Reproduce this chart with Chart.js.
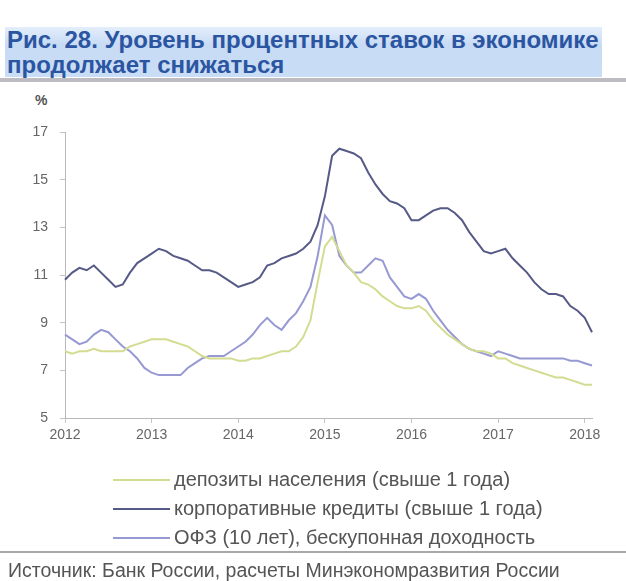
<!DOCTYPE html>
<html>
<head>
<meta charset="utf-8">
<script src="https://cdn.jsdelivr.net/npm/chart.js@4/dist/chart.umd.min.js"></script>
<style>
  body { margin:0; width:626px; height:581px; background:#fff; position:relative; overflow:hidden;
         font-family:"Liberation Sans", Arial, sans-serif; }
  #band { position:absolute; left:5px; top:27px; width:597px; height:50px;
          background:linear-gradient(#e4eefb, #c7dbf5 35%, #c9ddf6); }
  #title { position:absolute; left:7px; top:27px; font-weight:bold; font-size:24px; line-height:25px;
           color:#2b55a0; white-space:nowrap; }
  #rule { position:absolute; left:0; top:78px; width:626px; height:4px; background:#bcbcc2; }
  #pct { position:absolute; left:35px; top:92px; font-size:14px; font-weight:bold; color:#555; }
  canvas { position:absolute; left:0; top:0; }
  #legend { position:absolute; left:113px; top:465px; }
  .row { height:29px; display:flex; align-items:center; }
  .sw { width:57px; height:2px; margin-right:4px; }
  .lt { font-size:20px; color:#555; white-space:nowrap; }
  #rule2 { position:absolute; left:0; top:551px; width:626px; height:2px; background:#a8a8a8; }
  #src { position:absolute; left:8px; top:559px; font-size:19.5px; color:#555; white-space:nowrap; }
</style>
</head>
<body>
<div id="band"></div>
<div id="title">Рис. 28. Уровень процентных ставок в экономике<br>продолжает снижаться</div>
<div id="rule"></div>
<div id="pct">%</div>
<canvas id="c" width="626" height="581"></canvas>
<div id="legend"></div>
<div id="rule2"></div>
<div id="src">Источник: Банк России, расчеты Минэкономразвития России</div>
<script>
// Years shown on the horizontal axis; monthly observations from Jan 2012 to Feb 2018
const years = ['2012', '2013', '2014', '2015', '2016', '2017', '2018'];
const monthCount = 74;

// Y axis range, %
const yMin = 5, yMax = 17, yStep = 2;

// Series names
const seriesNames = [
  'депозиты населения (свыше 1 года)',
  'корпоративные кредиты (свыше 1 года)',
  'ОФЗ (10 лет), бескупонная доходность'
];

// Deposits of households, over 1 year, %
const deposits = [
  7.8, 7.7, 7.8, 7.8, 7.9, 7.8, 7.8, 7.8, 7.8, 8.0, 8.1, 8.2,
  8.3, 8.3, 8.3, 8.2, 8.1, 8.0, 7.8, 7.6, 7.5, 7.5, 7.5, 7.5,
  7.4, 7.4, 7.5, 7.5, 7.6, 7.7, 7.8, 7.8, 8.0, 8.4, 9.1, 10.7,
  12.2, 12.6, 12.0, 11.4, 11.1, 10.7, 10.6, 10.4, 10.1, 9.9, 9.7, 9.6,
  9.6, 9.7, 9.5, 9.1, 8.8, 8.5, 8.3, 8.1, 7.9, 7.8, 7.8, 7.7,
  7.5, 7.5, 7.3, 7.2, 7.1, 7.0, 6.9, 6.8, 6.7, 6.7, 6.6, 6.5,
  6.4, 6.4
];

// Corporate loans, over 1 year, %
const corporate = [
  10.8, 11.1, 11.3, 11.2, 11.4, 11.1, 10.8, 10.5, 10.6, 11.1, 11.5, 11.7,
  11.9, 12.1, 12.0, 11.8, 11.7, 11.6, 11.4, 11.2, 11.2, 11.1, 10.9, 10.7,
  10.5, 10.6, 10.7, 10.9, 11.4, 11.5, 11.7, 11.8, 11.9, 12.1, 12.4, 13.1,
  14.3, 16.0, 16.3, 16.2, 16.1, 15.9, 15.3, 14.8, 14.4, 14.1, 14.0, 13.8,
  13.3, 13.3, 13.5, 13.7, 13.8, 13.8, 13.6, 13.3, 12.8, 12.4, 12.0, 11.9,
  12.0, 12.1, 11.7, 11.4, 11.1, 10.7, 10.4, 10.2, 10.2, 10.1, 9.7, 9.5,
  9.2, 8.6
];

// OFZ 10-year zero-coupon yield, %
const ofz = [
  8.5, 8.3, 8.1, 8.2, 8.5, 8.7, 8.6, 8.3, 8.0, 7.8, 7.5, 7.1,
  6.9, 6.8, 6.8, 6.8, 6.8, 7.1, 7.3, 7.5, 7.6, 7.6, 7.6, 7.8,
  8.0, 8.2, 8.5, 8.9, 9.2, 8.9, 8.7, 9.1, 9.4, 9.9, 10.5, 11.8,
  13.5, 13.1, 11.8, 11.4, 11.1, 11.1, 11.4, 11.7, 11.6, 10.9, 10.5, 10.1,
  10.0, 10.2, 10.0, 9.5, 9.1, 8.7, 8.4, 8.1, 7.9, 7.8, 7.7, 7.6,
  7.8, 7.7, 7.6, 7.5, 7.5, 7.5, 7.5, 7.5, 7.5, 7.5, 7.4, 7.4,
  7.3, 7.2
];

const colors = ['#d3dc90', '#565a86', '#9699d2'];

const labels = [];
for (let i = 0; i < monthCount; i++) {
  labels.push(years[Math.floor(i / 12)] + '-' + String(i % 12 + 1).padStart(2, '0'));
}

const series = [deposits, corporate, ofz];
const datasets = series.map((d, k) => ({
  label: seriesNames[k],
  data: d,
  borderColor: colors[k],
  backgroundColor: colors[k],
  borderWidth: 2,
  pointRadius: 0,
  tension: 0,
  fill: false
}));

new Chart(document.getElementById('c'), {
  type: 'line',
  data: { labels, datasets },
  options: {
    responsive: false,
    animation: false,
    layout: { padding: { top: 132, left: 0, right: 34, bottom: 133 } },
    plugins: { legend: { display: false }, tooltip: { enabled: false } },
    scales: {
      x: {
        grid: { drawOnChartArea: false, tickLength: 5, color: '#c4c4c4' },
        border: { color: '#b8b8b8' },
        ticks: {
          autoSkip: false, maxRotation: 0, color: '#666', padding: 4,
          font: { family: 'Liberation Sans', size: 14 },
          callback: (v, i) => (i % 12 === 0 ? years[i / 12] : null)
        },
        afterFit: s => { s.height = 30; }
      },
      y: {
        min: yMin, max: yMax,
        grid: { drawOnChartArea: false, tickLength: 5, color: '#c4c4c4' },
        border: { color: '#b8b8b8' },
        ticks: { stepSize: yStep, color: '#666', padding: 12,
                 font: { family: 'Liberation Sans', size: 14 } },
        afterFit: s => { s.width = 65; }
      }
    }
  }
});

// Vertical legend below the plot
const legend = document.getElementById('legend');
seriesNames.forEach((name, k) => {
  const row = document.createElement('div');
  row.className = 'row';
  const sw = document.createElement('div');
  sw.className = 'sw';
  sw.style.background = colors[k];
  const t = document.createElement('span');
  t.className = 'lt';
  t.textContent = name;
  row.appendChild(sw);
  row.appendChild(t);
  legend.appendChild(row);
});
</script>
</body>
</html>
